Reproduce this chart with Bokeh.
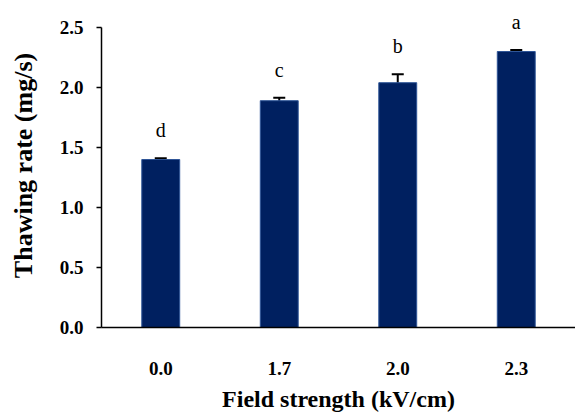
from bokeh.plotting import figure
from bokeh.models import ColumnDataSource, Whisker, TeeHead, LabelSet, NumeralTickFormatter, FixedTicker
from bokeh.embed import file_html
from bokeh.resources import INLINE

# Data
strengths = ["0.0", "1.7", "2.0", "2.3"]
rates = [1.40, 1.89, 2.04, 2.30]
errors = [0.01, 0.025, 0.07, 0.012]
letters = ["d", "c", "b", "a"]

upper = [r + e for r, e in zip(rates, errors)]
lower = [r - e for r, e in zip(rates, errors)]

src = ColumnDataSource(dict(x=strengths, top=rates, upper=upper, lower=lower, letter=letters))

SERIF = "Liberation Serif"

p = figure(x_range=strengths, y_range=(0, 2.7), width=575, height=414,
           output_backend="svg", toolbar_location=None,
           min_border_left=101, min_border_right=0, min_border_top=3, min_border_bottom=87)

p.vbar(x="x", top="top", width=0.32, source=src, fill_color="#002060",
       line_color="#2F5597", line_width=1)

w = Whisker(base="x", upper="upper", lower="lower", source=src,
            line_color="black", line_width=2,
            upper_head=TeeHead(size=12, line_width=2, line_color="black"),
            lower_head=TeeHead(size=12, line_width=2, line_color="black"))
p.add_layout(w)

labels = LabelSet(x="x", y="upper", text="letter", source=src, y_offset=21,
                  text_align="center", text_baseline="alphabetic",
                  text_font=SERIF, text_font_size="20px", text_color="black")
p.add_layout(labels)

p.xgrid.grid_line_color = None
p.ygrid.grid_line_color = None
p.outline_line_color = None
p.background_fill_color = "white"
p.border_fill_color = "white"

# Y axis
p.yaxis.ticker = FixedTicker(ticks=[0, 0.5, 1.0, 1.5, 2.0, 2.5])
p.yaxis.formatter = NumeralTickFormatter(format="0.0")
p.yaxis.bounds = (0, 2.5)
p.yaxis.axis_label = "Thawing rate (mg/s)"
p.yaxis.axis_label_text_font = SERIF
p.yaxis.axis_label_text_font_style = "bold"
p.yaxis.axis_label_text_font_size = "26px"
p.yaxis.axis_label_text_color = "black"
p.yaxis.axis_label_standoff = 19
p.yaxis.major_label_text_font = SERIF
p.yaxis.major_label_text_font_style = "bold"
p.yaxis.major_label_text_font_size = "19px"
p.yaxis.major_label_text_color = "black"
p.yaxis.major_label_standoff = 13
p.yaxis.major_tick_out = 5
p.yaxis.major_tick_in = 0
p.yaxis.minor_tick_line_color = None
p.yaxis.axis_line_width = 1.5
p.yaxis.major_tick_line_width = 1.5
p.yaxis.axis_line_color = "black"
p.yaxis.major_tick_line_color = "black"

# X axis
p.xaxis.axis_label = "Field strength (kV/cm)"
p.xaxis.axis_label_text_font = SERIF
p.xaxis.axis_label_text_font_style = "bold"
p.xaxis.axis_label_text_font_size = "24px"
p.xaxis.axis_label_text_color = "black"
p.xaxis.axis_label_standoff = 8
p.xaxis.major_label_text_font = SERIF
p.xaxis.major_label_text_font_style = "bold"
p.xaxis.major_label_text_font_size = "19px"
p.xaxis.major_label_text_color = "black"
p.xaxis.major_label_standoff = 28
p.xaxis.major_tick_line_color = None
p.xaxis.minor_tick_line_color = None
p.xaxis.axis_line_width = 1.5
p.xaxis.axis_line_color = "black"

open("out.html", "w").write(file_html(p, INLINE))
